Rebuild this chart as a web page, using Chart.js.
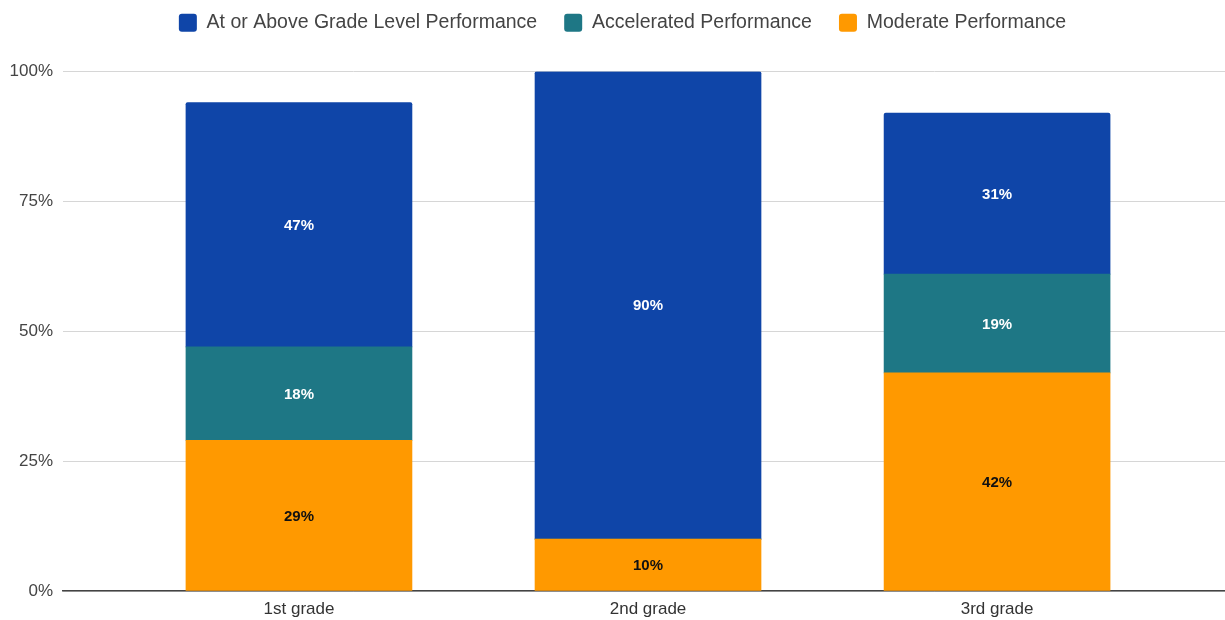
<!DOCTYPE html>
<html>
<head>
<meta charset="utf-8">
<script src="https://cdn.jsdelivr.net/npm/chart.js@4/dist/chart.umd.min.js"></script>
<style>
  html, body { margin: 0; padding: 0; background: #fff; }
  #wrap { width: 1225px; height: 620px; position: relative; }
</style>
</head>
<body>
<div id="wrap"><canvas id="chart"></canvas></div>
<script>
const grades = ["1st grade", "2nd grade", "3rd grade"];
const moderate = [29, 10, 42];
const accelerated = [18, 0, 19];
const atOrAbove = [47, 90, 31];
const yTicks = [0, 25, 50, 75, 100];

const FONT = "'Liberation Sans', Arial, sans-serif";
const LEGEND_SHIFT_Y = -29;
const LEGEND_SHIFT_X = 10;

// labels in the middle of each segment
const segmentLabels = {
  id: "segmentLabels",
  afterLayout(chart) {
    // move the legend up towards the top edge
    if (chart.legend) {
      chart.legend.top += LEGEND_SHIFT_Y;
      chart.legend.bottom += LEGEND_SHIFT_Y;
      chart.legend.left += LEGEND_SHIFT_X;
      chart.legend.right += LEGEND_SHIFT_X;
    }
  },
  afterDatasetsDraw(chart) {
    const ctx = chart.ctx;
    ctx.save();
    ctx.font = "bold 15px " + FONT;
    ctx.textAlign = "center";
    ctx.textBaseline = "middle";
    chart.data.datasets.forEach((ds, di) => {
      const meta = chart.getDatasetMeta(di);
      meta.data.forEach((bar, i) => {
        const v = ds.data[i].y;
        if (!v) return;
        ctx.fillStyle = ds.labelColor;
        ctx.fillText(v + "%", bar.x, (bar.y + bar.base) / 2 + 1);
      });
    });
    ctx.restore();
  }
};

const toPoints = (arr) => arr.map((v, i) => ({ x: i, y: v }));

new Chart(document.getElementById("chart").getContext("2d"), {
  type: "bar",
  data: {
    datasets: [
      {
        label: "Moderate Performance",
        backgroundColor: "#FF9900",
        labelColor: "#111",
        data: toPoints(moderate),
      },
      {
        label: "Accelerated Performance",
        backgroundColor: "#1E7785",
        labelColor: "#fff",
        data: toPoints(accelerated),
      },
      {
        label: "At or Above Grade Level Performance",
        backgroundColor: "#0F45A8",
        labelColor: "#fff",
        borderRadius: { topLeft: 2, topRight: 2 },
        borderSkipped: "bottom",
        data: toPoints(atOrAbove),
      },
    ],
  },
  options: {
    responsive: true,
    maintainAspectRatio: false,
    animation: false,
    barThickness: 226,
    layout: { padding: { top: 15, right: 0, bottom: 0, left: 0 } },
    plugins: {
      tooltip: { enabled: false },
      legend: {
        position: "top",
        reverse: true,
        labels: {
          boxWidth: 18,
          boxHeight: 18,
          useBorderRadius: true,
          borderRadius: 3,
          padding: 27,
          color: "#444",
          font: { family: FONT, size: 19.5 },
        },
      },
    },
    scales: {
      x: {
        type: "linear",
        stacked: true,
        bounds: "data",
        offset: false,
        min: -0.676,
        max: 2.653,
        afterBuildTicks(scale) {
          scale.ticks = grades.map((g, i) => ({ value: i }));
        },
        afterFit(scale) {
          scale.height = 29;
        },
        grid: { display: false, drawTicks: false },
        border: { display: true, color: "#444", width: 1.5 },
        ticks: {
          padding: 8,
          color: "#333",
          font: { family: FONT, size: 17 },
          callback: (v) => grades[v],
        },
      },
      y: {
        stacked: true,
        min: 0,
        max: 100,
        afterBuildTicks(scale) {
          scale.ticks = yTicks.map((v) => ({ value: v }));
        },
        afterFit(scale) {
          scale.width = 63;
        },
        grid: { color: "#d6d6d6", drawTicks: false },
        border: { display: false },
        ticks: {
          padding: 10,
          color: "#444",
          font: { family: FONT, size: 17 },
          callback: (v) => v + "%",
        },
      },
    },
  },
  plugins: [segmentLabels],
});
</script>
</body>
</html>
